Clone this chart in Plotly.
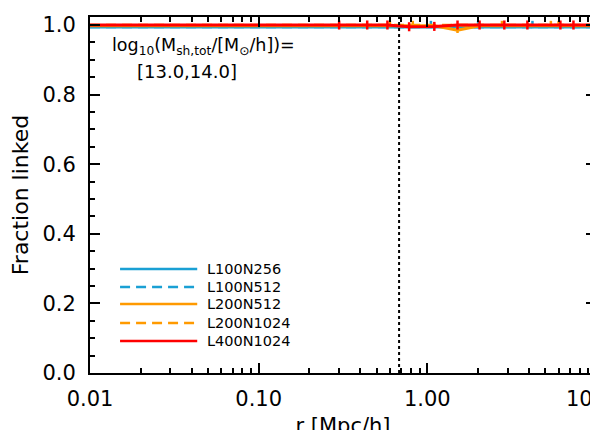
import plotly.graph_objects as go

# ─────────────────────────────────────────
# DATOS
# ─────────────────────────────────────────
NOMBRES = ["L100N256", "L100N512", "L200N512", "L200N1024", "L400N1024"]
COLORES = ["#1AA0D4", "#1AA0D4", "#FF9A00", "#FF9A00", "#FF0000"]
ESTILOS = ["solid", "10px,6px", "solid", "10px,6px", "solid"]

r_l100n256 = [0.01, 0.03, 0.1, 0.3, 0.6, 1.05, 2.0, 4.2, 10.0]
f_l100n256 = [0.994, 0.994, 0.994, 0.994, 0.994, 0.994, 0.994, 0.994, 0.994]
e_l100n256 = [0.0, 0.0, 0.0, 0.0, 0.0, 0.018, 0.018, 0.018, 0.0]
em_l100n256 = [0.0, 0.0, 0.0, 0.0, 0.0, 0.003, 0.003, 0.003, 0.0]

r_l100n512 = [0.01, 0.03, 0.1, 0.3, 0.6, 1.0, 2.0, 4.0, 10.0]
f_l100n512 = [0.995, 0.995, 0.995, 0.995, 0.995, 0.995, 0.995, 0.995, 0.995]
e_l100n512 = [0.0, 0.0, 0.0, 0.0, 0.0, 0.0, 0.0, 0.0, 0.0]
em_l100n512 = [0.0, 0.0, 0.0, 0.0, 0.0, 0.0, 0.0, 0.0, 0.0]

r_l200n512 = [0.01, 0.03, 0.1, 0.3, 0.60, 0.82, 1.10, 1.51, 2.04, 2.77, 3.92, 5.4, 6.0, 10.0]
f_l200n512 = [0.998, 0.998, 0.998, 0.998, 0.998, 0.998, 0.998, 0.985, 0.998, 0.998, 0.998, 0.998, 0.998, 0.998]
e_l200n512 = [0.0, 0.0, 0.0, 0.0, 0.014, 0.014, 0.0, 0.012, 0.0, 0.014, 0.0, 0.014, 0.014, 0.0]
em_l200n512 = [0.0, 0.0, 0.0, 0.0, 0.004, 0.004, 0.0, 0.008, 0.0, 0.004, 0.0, 0.004, 0.004, 0.0]

r_l200n1024 = [0.01, 0.03, 0.1, 0.3, 0.6, 1.0, 2.0, 4.0, 10.0]
f_l200n1024 = [0.999, 0.999, 0.999, 0.999, 0.999, 0.999, 0.999, 0.999, 0.999]
e_l200n1024 = [0.0, 0.0, 0.0, 0.0, 0.0, 0.0, 0.0, 0.0, 0.0]
em_l200n1024 = [0.0, 0.0, 0.0, 0.0, 0.0, 0.0, 0.0, 0.0, 0.0]

r_l400n1024 = [0.01, 0.03, 0.1, 0.2, 0.30, 0.44, 0.58, 0.78, 1.10, 1.51, 2.04, 2.86, 3.92, 6.15, 7.35, 10.0]
f_l400n1024 = [1.0, 1.0, 1.0, 1.0, 1.0, 1.0, 1.0, 0.995, 0.996, 1.0, 1.0, 1.0, 1.0, 1.0, 1.0, 1.0]
e_l400n1024 = [0.0, 0.0, 0.0, 0.0, 0.013, 0.013, 0.013, 0.013, 0.013, 0.013, 0.013, 0.013, 0.013, 0.013, 0.013, 0.0]
em_l400n1024 = [0.0, 0.0, 0.0, 0.0, 0.013, 0.013, 0.013, 0.013, 0.013, 0.013, 0.013, 0.013, 0.013, 0.013, 0.013, 0.0]

SERIES = [
    (r_l100n256, f_l100n256, e_l100n256, em_l100n256),
    (r_l100n512, f_l100n512, e_l100n512, em_l100n512),
    (r_l200n512, f_l200n512, e_l200n512, em_l200n512),
    (r_l200n1024, f_l200n1024, e_l200n1024, em_l200n1024),
    (r_l400n1024, f_l400n1024, e_l400n1024, em_l400n1024),
]

R_VIR = 0.68
X_TICKS = [0.01, 0.1, 1.0, 10.0]
X_TICKTEXT = ["0.01", "0.10", "1.00", "10.00"]

FUENTE = "DejaVu Sans"

# ─────────────────────────────────────────
# FIGURA
# ─────────────────────────────────────────
fig = go.Figure()

for nombre, color, estilo, (r, f, e, em) in zip(NOMBRES, COLORES, ESTILOS, SERIES):
    fig.add_trace(go.Scatter(
        x=r, y=f,
        mode="lines",
        name=nombre,
        line=dict(color=color, width=3, dash=estilo),
        error_y=dict(type="data", symmetric=False, array=e, arrayminus=em,
                     color=color, thickness=2.5, width=0, visible=True),
        showlegend=False,
    ))

fig.add_vline(x=R_VIR, line_dash="dot", line_color="black", line_width=2)

# leyenda dibujada a mano (líneas largas como en el original)
fila_y = [0.292, 0.2416, 0.1938, 0.1404, 0.0899]
for nombre, color, estilo, yy in zip(NOMBRES, COLORES, ESTILOS, fila_y):
    fig.add_shape(type="line", xref="paper", yref="paper",
                  x0=0.0594, x1=0.2119, y0=yy, y1=yy,
                  line=dict(color=color, width=2.5, dash=estilo))
    fig.add_annotation(x=0.2277, y=yy, xref="paper", yref="paper",
                       text=nombre, showarrow=False, xanchor="left", yanchor="middle",
                       font=dict(family=FUENTE, size=14.5, color="black"))

fig.add_annotation(x=0.0396, y=0.917, xref="paper", yref="paper",
                   text="log<sub>10</sub>(M<sub>sh,tot</sub>/[M<sub>⊙</sub>/h])=",
                   showarrow=False, xanchor="left", yanchor="middle",
                   font=dict(family=FUENTE, size=17.5, color="black"))
fig.add_annotation(x=0.089, y=0.847, xref="paper", yref="paper",
                   text="[13.0,14.0]",
                   showarrow=False, xanchor="left", yanchor="middle",
                   font=dict(family=FUENTE, size=18, color="black"))

eje = dict(
    showgrid=False, zeroline=False,
    showline=True, linecolor="black", linewidth=2,
    mirror="allticks", ticks="inside", tickcolor="black", tickwidth=1.5,
    ticklen=10, automargin=False, ticklabeloverflow="allow",
    tickfont=dict(family=FUENTE, size=21, color="black"),
)

minor_x = [m * d for d in [0.01, 0.1, 1.0] for m in range(2, 10)]

fig.update_xaxes(
    **eje,
    type="log", range=[-2, 1.0],
    tickmode="array", tickvals=X_TICKS, ticktext=X_TICKTEXT,
    minor=dict(tickmode="array", tickvals=minor_x, ticks="inside", ticklen=5,
               tickcolor="black", tickwidth=1.5, showgrid=False),
    ticklabelstandoff=6,
    title=dict(text="r [Mpc/h]", font=dict(family=FUENTE, size=21, color="black"), standoff=10),
)
fig.update_yaxes(
    **eje,
    range=[0, 1.023], dtick=0.2, tickformat=".1f",
    minor=dict(dtick=0.05, ticks="inside", ticklen=5, tickcolor="black",
               tickwidth=1.5, showgrid=False),
    ticklabelstandoff=8,
    title=dict(text="Fraction linked", font=dict(family=FUENTE, size=22, color="black"), standoff=16),
)

# la página añade 8 px de margen al body: se compensa aquí
fig.update_layout(
    width=598, height=430,
    margin=dict(l=82, r=10, t=9, b=65),
    plot_bgcolor="white", paper_bgcolor="white",
    showlegend=False,
)

fig.write_html("out.html")
